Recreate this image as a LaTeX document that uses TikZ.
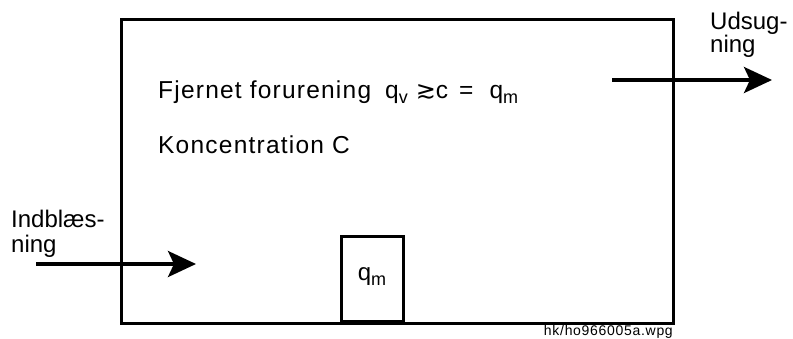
\documentclass[tikz,border=0pt]{standalone}
\usepackage{fontspec}
\setmainfont{Liberation Sans}
\newfontfamily\djv{DejaVu Sans}
\newfontfamily\spaced[LetterSpace=5]{Liberation Sans}
\newcommand{\lowsub}[1]{\raisebox{-5pt}{\fontsize{18}{18}\selectfont #1}}
\usetikzlibrary{arrows.meta}
\begin{document}
\begin{tikzpicture}[x=1pt,y=-1pt,
  frame/.style={draw=black,line width=3pt},
  flow/.style={line width=3.5pt,-{Stealth[length=28pt,width=26pt,inset=6pt]}},
  lbl/.style={anchor=base west,inner sep=0pt,font=\fontsize{24}{24}\selectfont},
  txt/.style={anchor=base west,inner sep=0pt,font=\fontsize{24.5}{24.5}\spaced},
  small/.style={anchor=base east,inner sep=0pt,font=\fontsize{14}{14}\spaced}]
\useasboundingbox (0,0) rectangle (793,338);
\draw[frame] (121,19) rectangle (673,323);
\node[frame,minimum width=62pt,minimum height=85pt,inner sep=0pt,anchor=south] (src) at (372,323) {};
\node[anchor=base,inner sep=0pt,font=\fontsize{24}{24}\selectfont] (qm) at (372,280) {q\lowsub{m}};
\node[txt] (fj) at (158,98) {Fjernet forurening\hspace{6pt} q\lowsub{v}\hspace{8pt}{\djv\fontsize{24}{24}\selectfont ≳}c\hspace{3pt} =\ \ q\lowsub{m}};
\node[txt] (kc) at (158,153) {Koncentration C};
\node[lbl] (ind1) at (11,227) {Indblæs-};
\node[lbl] (ind2) at (11,252) {ning};
\node[lbl] (ud1) at (710,29) {Udsug-};
\node[lbl] (ud2) at (710,52) {ning};
\node[small] (ref) at (673,335) {hk/ho966005a.wpg};
\coordinate (inA) at (36,264);
\coordinate (inB) at (196,264);
\coordinate (outA) at (612,80);
\coordinate (outB) at (772,80);
\draw[flow] (inA) -- (inB);
\draw[flow] (outA) -- (outB);
\end{tikzpicture}
\end{document}
